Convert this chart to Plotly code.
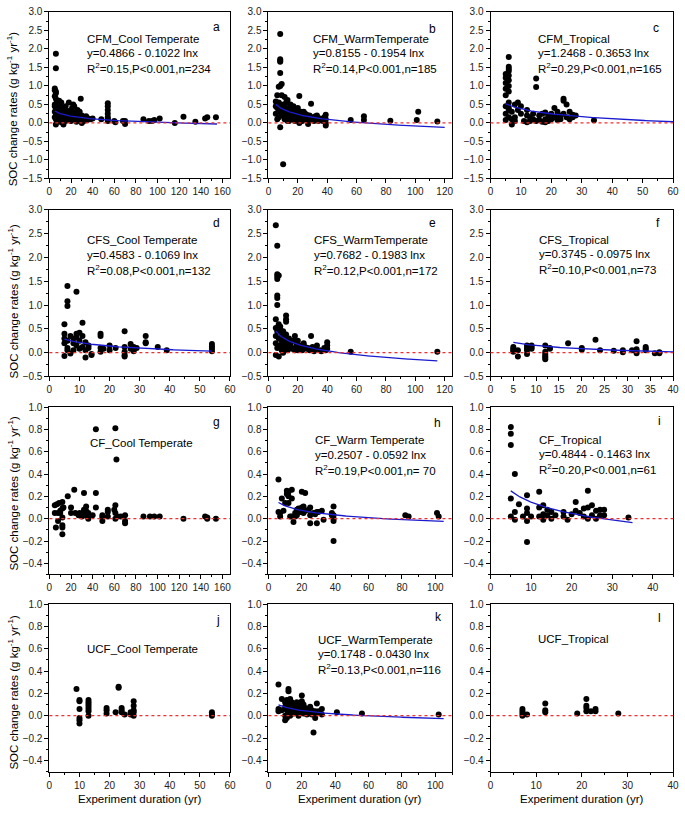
import numpy as np
import plotly.graph_objects as go

# ---------------- DATA ----------------
panel_letters = ["a", "b", "c", "d", "e", "f", "g", "h", "i", "j", "k", "l"]
panel_titles = ["CFM_Cool Temperate", "CFM_WarmTemperate", "CFM_Tropical",
                "CFS_Cool Temperate", "CFS_WarmTemperate", "CFS_Tropical",
                "CF_Cool Temperate", "CF_Warm Temperate", "CF_Tropical",
                "UCF_Cool Temperate", "UCF_WarmTemperate", "UCF_Tropical"]
panel_eqs = ["y=0.4866 - 0.1022 lnx", "y=0.8155 - 0.1954 lnx", "y=1.2468 - 0.3653 lnx",
             "y=0.4583 - 0.1069 lnx", "y=0.7682 - 0.1983 lnx", "y=0.3745 - 0.0975 lnx",
             None, "y=0.2507 - 0.0592 lnx", "y=0.4844 - 0.1463 lnx",
             None, "y=0.1748 - 0.0430 lnx", None]
panel_stats = ["R<sup>2</sup>=0.15,P&lt;0.001,n=234", "R<sup>2</sup>=0.14,P&lt;0.001,n=185",
               "R<sup>2</sup>=0.29,P&lt;0.001,n=165", "R<sup>2</sup>=0.08,P&lt;0.001,n=132",
               "R<sup>2</sup>=0.12,P&lt;0.001,n=172", "R<sup>2</sup>=0.10,P&lt;0.001,n=73",
               None, "R<sup>2</sup>=0.19,P&lt;0.001,n= 70", "R<sup>2</sup>=0.20,P&lt;0.001,n=61",
               None, "R<sup>2</sup>=0.13,P&lt;0.001,n=116", None]

# fitted curve as drawn: y = fit_a - fit_b * ln(x), from fit_x0 to fit_x1
fit_a = [0.4866, 0.8155, 0.83, 0.4583, 0.7682, 0.3745, None, 0.2507, 0.4844, None, 0.1748, None]
fit_b = [0.1022, 0.1954, 0.195, 0.1069, 0.1983, 0.0975, None, 0.0592, 0.1463, None, 0.0430, None]
fit_x0 = [5, 5, 5, 5, 5, 5, None, 6, 5, None, 6, None]
fit_x1 = [155, 120, 60, 54, 115, 40, None, 105, 35, None, 105, None]

x_ranges = [[0, 167], [0, 125], [0, 60], [0, 60], [0, 125], [0, 40],
            [0, 167], [0, 110], [0, 45], [0, 60], [0, 110], [0, 40]]
x_dticks = [20, 20, 10, 10, 20, 5, 20, 20, 10, 10, 20, 10]
y_ranges = [[-1.5, 3.0], [-0.5, 3.0], [-0.5, 1.0], [-0.5, 1.0]]

a_x = [6, 6, 5, 5, 6, 6, 5, 6, 7, 5,
       5, 6, 7, 5, 6, 7, 5, 6, 7, 6,
       8, 8, 9, 9, 10, 10, 11, 11, 12, 12,
       13, 13, 14, 15, 15, 16, 17, 18, 18, 19,
       20, 20, 21, 22, 22, 23, 24, 25, 25, 26,
       27, 28, 29, 29, 30, 31, 32, 33, 34, 35,
       36, 38, 40, 10, 12, 14, 16, 18, 24, 26,
       8, 13, 17, 21, 23, 27, 30, 9, 11, 15,
       54, 54, 54, 54, 54, 54, 54, 48, 60, 61,
       68, 70, 70, 87, 92, 95, 97, 102, 116, 124,
       135, 144, 146, 154]
a_y = [1.87, 1.48, 0.93, 0.88, 0.85, 0.80, 0.72, 0.65, 0.58, 0.50,
       0.45, 0.40, 0.35, 0.30, 0.25, 0.20, 0.15, 0.10, 0.05, -0.04,
       0.45, 0.20, 0.35, 0.10, 0.48, 0.15, 0.30, 0.02, 0.40, 0.08,
       0.25, -0.04, 0.18, 0.30, 0.05, 0.22, 0.12, 0.55, 0.10, 0.20,
       0.30, 0.05, 0.15, 0.50, 0.25, 0.45, 0.10, 0.22, 0.03, 0.15,
       0.08, 0.30, 0.65, 0.12, 0.20, 0.10, 0.05, 0.15, 0.18, 0.08,
       0.12, 0.10, 0.12, 0.25, 0.22, 0.38, 0.08, 0.32, 0.28, 0.35,
       0.05, 0.12, 0.30, 0.40, 0.18, 0.25, 0.00, 0.60, 0.55, 0.45,
       0.53, 0.45, 0.35, 0.25, 0.15, 0.10, 0.05, 0.10, 0.05, 0.02,
       0.05, 0.05, -0.03, 0.10, 0.05, 0.05, 0.08, 0.12, 0.00, 0.17,
       0.03, 0.12, 0.15, 0.15]

b_x = [8, 8, 8, 8, 8, 9, 8, 7, 10, 8,
       5, 5, 6, 6, 7, 7, 8, 9, 9, 10,
       11, 11, 12, 12, 13, 13, 14, 14, 15, 15,
       16, 16, 17, 18, 18, 19, 20, 20, 21, 21,
       22, 23, 24, 25, 26, 27, 28, 29, 30, 31,
       32, 33, 34, 35, 36, 38, 39, 39, 39, 39,
       6, 7, 10, 12, 14, 17, 19, 22, 24, 26,
       5, 9, 11, 13, 15, 20, 23, 28, 33, 37,
       56, 65, 65, 83, 101, 102, 115]
b_y = [2.40, 1.72, 1.68, 1.65, 1.35, 1.05, 1.00, 0.98, -1.12, -0.12,
       0.58, 0.25, 0.75, 0.40, 0.55, 0.15, 0.30, 0.75, 0.20, 0.45,
       0.70, 0.10, 0.55, 0.25, 0.62, 0.05, 0.40, 0.20, 0.50, 0.10,
       0.35, 0.15, 0.45, 0.30, 0.05, 0.25, 0.40, 0.10, 0.73, 0.00,
       0.30, 0.20, 0.15, 0.25, 0.10, -0.03, 0.20, 0.52, 0.15, 0.05,
       0.18, 0.10, 0.05, 0.12, 0.08, 0.15, 0.22, 0.10, 0.00, -0.07,
       0.10, 0.35, 0.30, 0.40, 0.05, 0.20, 0.35, 0.12, 0.30, 0.22,
       0.45, 0.50, 0.20, 0.30, 0.28, 0.20, 0.05, 0.08, 0.20, 0.05,
       0.08, 0.18, 0.08, 0.06, 0.08, 0.30, 0.04]

c_x = [6, 6, 6, 6, 5, 6, 5, 6, 5, 6,
       5, 6, 5, 6, 5, 6, 5, 6, 5, 6,
       7, 7, 8, 8, 9, 9, 10, 10, 7, 8,
       15, 15, 12, 12, 13, 13, 14, 14, 15, 16,
       16, 17, 17, 18, 18, 19, 19, 20, 20, 21,
       21, 22, 22, 23, 23, 24, 24, 24, 25, 25,
       26, 26, 27, 27, 28, 34, 11, 12, 18, 22]
c_y = [1.78, 1.52, 1.46, 1.40, 1.32, 1.28, 1.22, 1.15, 1.08, 1.00,
       0.92, 0.85, 0.75, 0.55, 0.45, 0.35, 0.25, 0.15, 0.08, 0.40,
       0.30, -0.04, 0.50, 0.15, 0.55, 0.35, 0.45, 0.25, 0.10, 0.05,
       1.20, 0.97, 0.35, 0.02, 0.15, 0.05, 0.25, 0.10, 0.05, 0.20,
       0.08, 0.25, 0.03, 0.10, 0.02, 0.20, 0.05, 0.25, 0.10, 0.40,
       0.15, 0.30, 0.08, 0.20, 0.10, 0.65, 0.60, 0.25, 0.50, 0.15,
       0.30, 0.10, 0.22, 0.15, 0.20, 0.07, 0.05, 0.20, 0.28, 0.20]

d_x = [6, 6, 6, 9, 5, 11, 25, 17, 17, 32,
       32, 32, 36, 39, 54, 54, 54, 54, 5, 12,
       14, 14, 25, 25, 5, 5, 5, 6, 6, 7,
       7, 8, 8, 9, 9, 10, 10, 10, 11, 11,
       12, 12, 13, 13, 17, 17, 18, 20, 20, 22,
       25, 25, 27, 27, 28, 28, 29, 8, 9, 6]
d_y = [1.40, 1.08, 0.98, 1.28, 0.60, 0.63, 0.45, 0.40, 0.35, 0.35,
       0.22, 0.20, 0.12, 0.05, 0.18, 0.13, 0.08, 0.03, -0.07, -0.10,
       -0.05, -0.03, -0.05, -0.08, 0.40, 0.30, 0.20, 0.25, 0.10, 0.35,
       -0.02, 0.30, 0.05, 0.40, 0.15, 0.42, 0.25, 0.08, 0.35, 0.12,
       0.22, 0.05, 0.15, 0.10, 0.10, 0.02, 0.08, 0.15, 0.05, 0.10,
       0.12, 0.02, 0.18, 0.08, 0.12, 0.03, 0.10, 0.20, 0.32, 0.05]

e_x = [5, 6, 6, 6, 6, 7, 6, 6, 6, 5,
       12, 12, 12, 29, 40, 40, 56, 115, 5, 5,
       5, 5, 6, 6, 7, 7, 8, 8, 9, 9,
       10, 10, 11, 11, 13, 13, 14, 15, 16, 17,
       18, 18, 19, 20, 21, 22, 23, 25, 26, 27,
       28, 30, 31, 32, 33, 35, 36, 38, 39, 40,
       8, 10, 12, 14, 16, 20, 24, 7, 9, 11]
e_y = [2.68, 2.25, 1.65, 1.60, 1.55, 1.62, 1.20, 1.15, 1.00, 0.70,
       0.78, 0.70, 0.65, 0.35, 0.22, 0.15, 0.02, 0.02, 0.52, 0.35,
       0.20, -0.05, 0.45, 0.10, 0.30, -0.08, 0.55, 0.15, 0.40, 0.05,
       0.30, 0.00, 0.35, 0.10, 0.25, 0.05, 0.15, 0.20, 0.08, 0.25,
       0.35, 0.05, 0.15, 0.25, 0.10, 0.15, 0.05, 0.12, 0.08, 0.10,
       0.05, 0.12, 0.03, 0.08, 0.15, 0.05, 0.03, 0.10, 0.05, 0.08,
       0.50, 0.45, 0.38, 0.30, 0.10, 0.05, 0.20, 0.60, 0.25, 0.20]

f_x = [5, 5, 5, 5, 6, 6, 8, 8, 8, 8,
       9, 9, 9, 12, 12, 12, 12, 12, 12, 13,
       13, 17, 20, 20, 23, 24, 27, 29, 29, 31,
       32, 32, 32, 32, 34, 34, 34, 36, 37, 37]
f_y = [0.12, 0.08, 0.05, 0.02, 0.05, -0.08, 0.15, 0.10, 0.05, -0.03,
       0.15, 0.12, 0.08, 0.15, 0.02, -0.03, -0.07, -0.10, -0.14, 0.10,
       0.08, 0.20, 0.10, 0.06, 0.27, 0.05, 0.04, 0.05, 0.01, 0.05,
       0.24, 0.07, 0.03, -0.01, 0.12, 0.08, 0.05, -0.01, 0.01, -0.01]

g_x = [43, 61, 62, 5, 5, 6, 7, 8, 8, 9,
       10, 10, 12, 12, 12, 12, 12, 12, 13, 17,
       20, 20, 23, 24, 27, 28, 30, 32, 32, 32,
       33, 34, 34, 35, 36, 36, 40, 43, 43, 49,
       49, 49, 54, 54, 54, 60, 61, 61, 61, 63,
       66, 70, 70, 70, 87, 93, 97, 102, 124, 144,
       146, 146, 154]
g_y = [0.80, 0.81, 0.53, 0.12, 0.05, -0.08, 0.13, -0.02, 0.05, 0.14,
       0.05, 0.07, 0.15, 0.09, 0.01, -0.06, -0.08, -0.14, 0.10, 0.20,
       0.10, 0.05, 0.26, 0.05, 0.03, 0.05, 0.02, 0.23, 0.05, 0.08,
       0.03, 0.11, 0.07, 0.02, 0.05, 0.00, 0.03, 0.23, 0.10, 0.03,
       0.01, -0.02, 0.08, 0.06, 0.02, 0.08, 0.12, 0.05, 0.00, 0.02,
       0.02, 0.03, -0.02, -0.04, 0.02, 0.02, 0.02, 0.02, 0.00, 0.02,
       0.00, 0.01, 0.00]

h_x = [6, 6, 7, 7, 8, 9, 10, 11, 11, 12,
       12, 12, 13, 14, 14, 14, 15, 16, 16, 17,
       17, 18, 19, 20, 20, 21, 21, 22, 22, 24,
       25, 25, 25, 27, 28, 29, 29, 30, 32, 33,
       38, 38, 39, 39, 39, 39, 39, 82, 84, 101,
       102]
h_y = [0.35, 0.06, 0.02, 0.05, 0.18, 0.07, 0.14, 0.22, 0.25, 0.20,
       0.24, 0.14, 0.02, 0.26, 0.18, 0.02, -0.03, 0.05, 0.02, 0.03,
       0.08, 0.09, 0.06, 0.24, 0.10, 0.11, 0.05, 0.23, 0.07, 0.08,
       0.10, -0.04, 0.03, 0.05, 0.04, -0.04, 0.06, 0.06, 0.07, -0.01,
       0.03, 0.05, 0.11, 0.03, 0.00, -0.02, -0.20, 0.03, 0.02, 0.05,
       0.02]

i_x = [5, 5, 5, 5, 5, 6, 6, 6, 7, 8,
       9, 9, 9, 9, 9, 10, 12, 12, 12, 13,
       13, 13, 14, 14, 15, 15, 16, 18, 18, 19,
       20, 21, 21, 22, 23, 23, 24, 24, 24, 25,
       25, 26, 26, 27, 27, 28, 28, 34]
i_y = [0.82, 0.76, 0.66, 0.18, 0.02, 0.40, 0.06, -0.01, 0.13, 0.02,
       0.21, 0.09, 0.05, -0.02, -0.21, 0.02, 0.24, 0.10, 0.02, 0.12,
       0.04, -0.01, 0.08, 0.03, 0.06, 0.00, 0.03, 0.06, 0.02, -0.01,
       0.04, 0.15, 0.07, 0.05, 0.09, 0.02, 0.25, 0.10, 0.00, 0.12,
       0.03, 0.07, 0.00, 0.08, 0.03, 0.08, 0.03, 0.01]

j_x = [9, 10, 10, 10, 10, 10, 10, 13, 13, 13,
       13, 13, 13, 13, 19, 19, 19, 22, 23, 23,
       24, 24, 24, 25, 27, 27, 27, 28, 28, 28,
       28, 28, 54, 54, 54]
j_y = [0.24, 0.14, 0.13, 0.06, -0.02, -0.04, -0.07, 0.14, 0.12, 0.10,
       0.08, 0.06, 0.04, 0.00, 0.07, 0.05, 0.02, 0.03, 0.26, 0.25,
       0.07, 0.05, 0.03, 0.01, 0.03, 0.02, 0.01, 0.13, 0.09, 0.05,
       0.03, 0.00, 0.03, 0.01, 0.00]

k_x = [6, 6, 6, 8, 8, 10, 10, 10, 10, 11,
       11, 11, 12, 12, 12, 12, 13, 13, 13, 14,
       14, 15, 15, 16, 16, 17, 17, 18, 18, 19,
       19, 20, 20, 20, 21, 21, 22, 22, 23, 23,
       24, 24, 25, 25, 26, 26, 27, 27, 28, 28,
       29, 29, 30, 32, 32, 41, 56, 102]
k_y = [0.28, 0.06, 0.04, 0.15, 0.05, 0.12, 0.08, 0.00, -0.04, 0.14,
       0.05, -0.02, 0.24, 0.22, 0.10, 0.03, 0.15, 0.06, 0.00, 0.12,
       0.04, 0.10, 0.02, 0.08, 0.03, 0.12, 0.05, 0.06, 0.00, 0.09,
       0.03, 0.18, 0.13, 0.05, 0.10, 0.02, 0.05, 0.07, 0.04, 0.01,
       0.06, 0.02, 0.08, 0.03, 0.05, 0.01, -0.15, 0.03, -0.02, 0.04,
       0.11, 0.02, 0.04, 0.06, 0.01, 0.03, 0.02, 0.01]

l_x = [7, 7, 7, 7, 8, 12, 12, 12, 19, 21,
       21, 21, 21, 22, 23, 23, 28]
l_y = [0.06, 0.04, 0.02, 0.00, 0.01, 0.11, 0.05, 0.03, 0.02, 0.15,
       0.09, 0.07, 0.04, 0.04, 0.06, 0.04, 0.02]

panel_x = [a_x, b_x, c_x, d_x, e_x, f_x, g_x, h_x, i_x, j_x, k_x, l_x]
panel_y = [a_y, b_y, c_y, d_y, e_y, f_y, g_y, h_y, i_y, j_y, k_y, l_y]

y_title = "SOC change rates (g kg<sup>-1</sup> yr<sup>-1</sup>)"
x_title = "Experiment duration (yr)"

# ---------------- LAYOUT (pixels) ----------------
W, H = 685, 814
col_px = [(47, 230), (269, 455), (494, 679)]
row_px = [(6, 175), (207, 376), (407, 577), (607, 777)]
FONT = "Arial, Liberation Sans, sans-serif"


def px_x(p):
    return p / W


def px_y(p):
    return 1 - p / H


# text positions (left x, first line center y) per panel
text_pos = [(83, 33), (312, 33), (540, 33),
            (83, 238), (313, 238), (541, 237),
            (140, 444), (314, 441), (541, 440),
            (141, 653), (317, 643), (578, 642)]
letter_pos = [(216, 21), (435, 23), (662, 22),
              (216, 220), (435, 220), (664, 220),
              (216, 422), (440, 423), (665, 421),
              (218, 623), (441, 620), (665, 621)]
line_gap = 15

fig = go.Figure()
annotations = []
shapes = []
layout_axes = {}

for i in range(12):
    r, c = divmod(i, 3)
    k = i + 1
    xname = "x" if k == 1 else f"x{k}"
    yname = "y" if k == 1 else f"y{k}"
    xa = "xaxis" if k == 1 else f"xaxis{k}"
    ya = "yaxis" if k == 1 else f"yaxis{k}"

    # zero reference line
    shapes.append(dict(type="line", xref=f"{xname} domain", yref=yname,
                       x0=0, x1=1, y0=0, y1=0,
                       line=dict(color="#f03030", width=1.2, dash="3px,3px"), layer="above"))

    fig.add_trace(go.Scatter(x=panel_x[i], y=panel_y[i], mode="markers",
                             marker=dict(color="black", size=6),
                             xaxis=xname, yaxis=yname, showlegend=False,
                             cliponaxis=False))
    if fit_a[i] is not None:
        xs = np.linspace(fit_x0[i], fit_x1[i], 200)
        ys = fit_a[i] - fit_b[i] * np.log(xs)
        fig.add_trace(go.Scatter(x=xs, y=ys, mode="lines",
                                 line=dict(color="#1a1ad0", width=1.3),
                                 xaxis=xname, yaxis=yname, showlegend=False))

    x0p, x1p = col_px[c]
    y0p, y1p = row_px[r]
    yr = y_ranges[r]
    if r < 2:
        ytick = dict(tickmode="linear", tick0=-1.5, dtick=0.5)
        yminor = dict(dtick=0.25, ticklen=2, tickcolor="black", ticks="outside")
    else:
        ytick = dict(tickmode="array", tickvals=[-0.4, -0.2, 0.0, 0.2, 0.4, 0.6, 0.8, 1.0])
        yminor = dict(tickmode="array", tickvals=[-0.5, -0.3, -0.1, 0.1, 0.3, 0.5, 0.7, 0.9],
                      ticklen=2, tickcolor="black", ticks="outside")

    layout_axes[xa] = dict(domain=[px_x(x0p), px_x(x1p)], anchor=yname,
                           range=x_ranges[i], tickmode="linear", tick0=0, dtick=x_dticks[i],
                           showgrid=False, zeroline=False, showline=True, linecolor="black",
                           linewidth=1, mirror=True, ticks="outside", ticklen=4,
                           tickcolor="black",
                           minor=dict(dtick=x_dticks[i] / 2, ticklen=2, tickcolor="black",
                                      ticks="outside"),
                           tickfont=dict(family=FONT, size=10, color="#222"))
    layout_axes[ya] = dict(domain=[px_y(y1p), px_y(y0p)], anchor=xname,
                           range=yr, showgrid=False, zeroline=False, showline=True,
                           linecolor="black", linewidth=1, mirror=True,
                           ticks="outside", ticklen=4, tickcolor="black",
                           tickformat=".1f", minor=yminor,
                           tickfont=dict(family=FONT, size=10, color="#222"), **ytick)

    # panel text
    tx, ty = text_pos[i]
    lines = [panel_titles[i]]
    if panel_eqs[i]:
        lines += [panel_eqs[i], panel_stats[i]]
    for j, t in enumerate(lines):
        annotations.append(dict(x=px_x(tx), y=px_y(ty + j * line_gap), xref="paper", yref="paper",
                                text=t, showarrow=False,
                                xanchor="center" if len(lines) == 1 else "left",
                                yanchor="middle",
                                font=dict(family=FONT, size=11.5, color="black")))
    lx, ly = letter_pos[i]
    annotations.append(dict(x=px_x(lx), y=px_y(ly), xref="paper", yref="paper",
                            text=panel_letters[i], showarrow=False, xanchor="center",
                            yanchor="middle", font=dict(family=FONT, size=12, color="black")))

# y titles
for yc in [105, 300, 495, 697]:
    annotations.append(dict(x=px_x(10), y=px_y(yc), xref="paper", yref="paper",
                            text=y_title, textangle=-90, showarrow=False,
                            xanchor="center", yanchor="middle",
                            font=dict(family=FONT, size=11.5, color="black")))
# x titles
for (x0p, x1p) in col_px:
    annotations.append(dict(x=px_x((x0p + x1p) / 2), y=px_y(805), xref="paper", yref="paper",
                            text=x_title, showarrow=False, xanchor="center", yanchor="middle",
                            font=dict(family=FONT, size=11.5, color="black")))

fig.update_layout(width=W, height=H, autosize=False,
                  margin=dict(l=0, r=0, t=0, b=0),
                  paper_bgcolor="white", plot_bgcolor="white",
                  annotations=annotations, shapes=shapes,
                  font=dict(family=FONT), **layout_axes)

fig.write_html("out.html", config={"displayModeBar": False},
               post_script="document.body.style.margin='0';")
